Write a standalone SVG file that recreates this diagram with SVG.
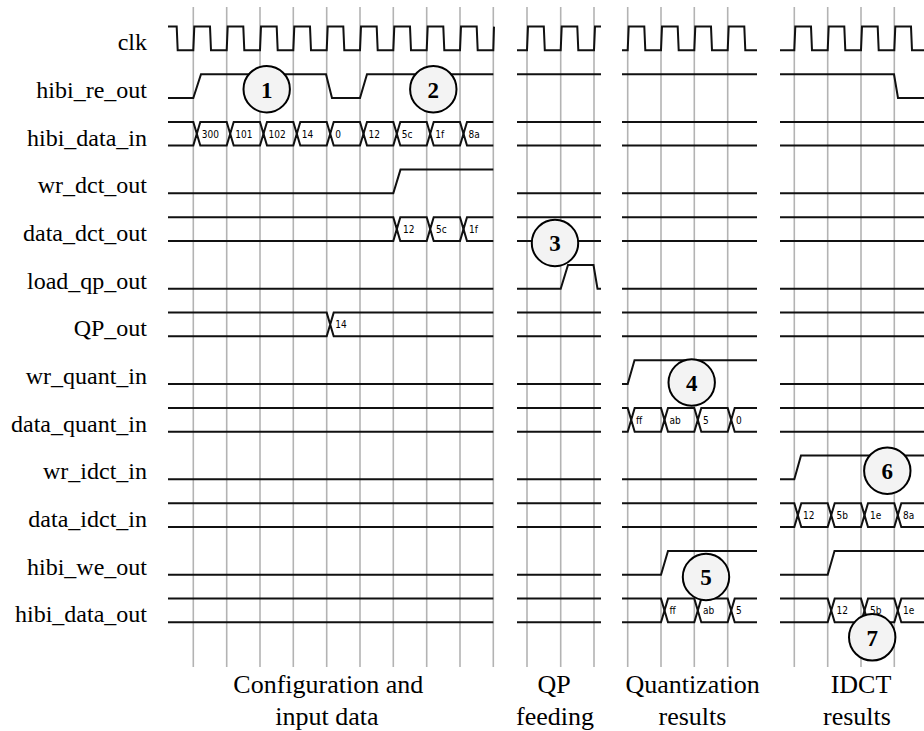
<svg xmlns="http://www.w3.org/2000/svg" width="924" height="731" viewBox="0 0 924 731">
<style>
.grid line{stroke:#b3b3b3;stroke-width:1.6}
.sig{fill:none;stroke:#111;stroke-width:2}
.ring{fill:#f3f3f3;stroke:#000;stroke-width:2}
</style>
<rect x="0" y="0" width="924" height="731" fill="#ffffff"/>

<g id="grid" class="grid">
<line x1="193.3" y1="7" x2="193.3" y2="667"/>
<line x1="226.7" y1="7" x2="226.7" y2="667"/>
<line x1="260" y1="7" x2="260" y2="667"/>
<line x1="293.3" y1="7" x2="293.3" y2="667"/>
<line x1="326.7" y1="7" x2="326.7" y2="667"/>
<line x1="360" y1="7" x2="360" y2="667"/>
<line x1="393.3" y1="7" x2="393.3" y2="667"/>
<line x1="426.7" y1="7" x2="426.7" y2="667"/>
<line x1="460" y1="7" x2="460" y2="667"/>
<line x1="493.3" y1="7" x2="493.3" y2="667"/>
<line x1="527" y1="7" x2="527" y2="667"/>
<line x1="560.7" y1="7" x2="560.7" y2="667"/>
<line x1="594" y1="7" x2="594" y2="667"/>
<line x1="627.7" y1="7" x2="627.7" y2="667"/>
<line x1="661" y1="7" x2="661" y2="667"/>
<line x1="694.3" y1="7" x2="694.3" y2="667"/>
<line x1="727.7" y1="7" x2="727.7" y2="667"/>
<line x1="794.3" y1="7" x2="794.3" y2="667"/>
<line x1="827.7" y1="7" x2="827.7" y2="667"/>
<line x1="861" y1="7" x2="861" y2="667"/>
<line x1="894.3" y1="7" x2="894.3" y2="667"/>
</g>

<g id="clk" transform="translate(0,26.6)">
<text x="147" y="23.7" font-family="Liberation Serif, serif" font-size="24" text-anchor="end">clk</text>
<path class="sig" d="M168,0 H176.7 L177.7,23.7 H193.3 L194.3,0 H210 L211,23.7 H226.7 L227.7,0 H243.3 L244.3,23.7 H260 L261,0 H276.7 L277.7,23.7 H293.3 L294.3,0 H310 L311,23.7 H326.7 L327.7,0 H343.3 L344.3,23.7 H360 L361,0 H376.7 L377.7,23.7 H393.3 L394.3,0 H410 L411,23.7 H426.7 L427.7,0 H443.3 L444.3,23.7 H460 L461,0 H476.7 L477.7,23.7 H493.3 L494,0"/>
<path class="sig" d="M517,23.7 H527 L528,0 H543.8 L544.8,23.7 H560.7 L561.7,0 H577.3 L578.3,23.7 H594 L595,0 H601"/>
<path class="sig" d="M622,23.7 H627.7 L628.7,0 H644.3 L645.3,23.7 H661 L662,0 H677.7 L678.7,23.7 H694.3 L695.3,0 H711 L712,23.7 H727.7 L728.7,0 H744.3 L745.3,23.7 H757"/>
<path class="sig" d="M780,23.7 H794.3 L795.3,0 H811 L812,23.7 H827.7 L828.7,0 H844.3 L845.3,23.7 H861 L862,0 H877.7 L878.7,23.7 H894.3 L895.3,0 H911 L912,23.7 H924"/>
</g>

<g id="hibi_re_out" transform="translate(0,74.3)">
<text x="147" y="23.7" font-family="Liberation Serif, serif" font-size="24" text-anchor="end">hibi_re_out</text>
<path class="sig" d="M168,23.7 H193.3 L201,0 H326 L332,23.7 H360 L367,0 H493.3 M517,0 H601 M622,0 H757 M780,0 H894 L898,23.7 H924"/>
</g>

<g id="hibi_data_in" transform="translate(0,121.9)">
<text x="147" y="23.7" font-family="Liberation Serif, serif" font-size="24" text-anchor="end">hibi_data_in</text>
<path class="sig" d="M168,0 H193.3 L196.8,11.85 L200.3,0 H226.7 L230.2,11.85 L233.7,0 H260 L263.5,11.85 L267,0 H293.3 L296.8,11.85 L300.3,0 H326.7 L330.2,11.85 L333.7,0 H360 L363.5,11.85 L367,0 H393.3 L396.8,11.85 L400.3,0 H426.7 L430.2,11.85 L433.7,0 H460 L463.5,11.85 L467,0 H493.3"/>
<path class="sig" d="M168,23.7 H193.3 L196.8,11.85 L200.3,23.7 H226.7 L230.2,11.85 L233.7,23.7 H260 L263.5,11.85 L267,23.7 H293.3 L296.8,11.85 L300.3,23.7 H326.7 L330.2,11.85 L333.7,23.7 H360 L363.5,11.85 L367,23.7 H393.3 L396.8,11.85 L400.3,23.7 H426.7 L430.2,11.85 L433.7,23.7 H460 L463.5,11.85 L467,23.7 H493.3"/>
<path class="sig" d="M517,0 H601 M517,23.7 H601 M622,0 H757 M622,23.7 H757 M780,0 H924 M780,23.7 H924"/>
<text x="201.8" y="15.8" font-family="DejaVu Sans Condensed, sans-serif" font-size="10">300</text>
<text x="235.2" y="15.8" font-family="DejaVu Sans Condensed, sans-serif" font-size="10">101</text>
<text x="268.5" y="15.8" font-family="DejaVu Sans Condensed, sans-serif" font-size="10">102</text>
<text x="301.8" y="15.8" font-family="DejaVu Sans Condensed, sans-serif" font-size="10">14</text>
<text x="335.2" y="15.8" font-family="DejaVu Sans Condensed, sans-serif" font-size="10">0</text>
<text x="368.5" y="15.8" font-family="DejaVu Sans Condensed, sans-serif" font-size="10">12</text>
<text x="401.8" y="15.8" font-family="DejaVu Sans Condensed, sans-serif" font-size="10">5c</text>
<text x="435.2" y="15.8" font-family="DejaVu Sans Condensed, sans-serif" font-size="10">1f</text>
<text x="468.5" y="15.8" font-family="DejaVu Sans Condensed, sans-serif" font-size="10">8a</text>
</g>

<g id="wr_dct_out" transform="translate(0,169.6)">
<text x="147" y="23.7" font-family="Liberation Serif, serif" font-size="24" text-anchor="end">wr_dct_out</text>
<path class="sig" d="M168,23.7 H393.3 L400.5,0 H493.3 M517,23.7 H601 M622,23.7 H757 M780,23.7 H924"/>
</g>

<g id="data_dct_out" transform="translate(0,217.3)">
<text x="147" y="23.7" font-family="Liberation Serif, serif" font-size="24" text-anchor="end">data_dct_out</text>
<path class="sig" d="M168,0 H393.3 L396.8,11.85 L400.3,0 H426.7 L430.2,11.85 L433.7,0 H460 L463.5,11.85 L467,0 H493.3"/>
<path class="sig" d="M168,23.7 H393.3 L396.8,11.85 L400.3,23.7 H426.7 L430.2,11.85 L433.7,23.7 H460 L463.5,11.85 L467,23.7 H493.3"/>
<path class="sig" d="M517,0 H601 M517,23.7 H601 M622,0 H757 M622,23.7 H757 M780,0 H924 M780,23.7 H924"/>
<text x="403" y="15.8" font-family="DejaVu Sans Condensed, sans-serif" font-size="10">12</text>
<text x="436" y="15.8" font-family="DejaVu Sans Condensed, sans-serif" font-size="10">5c</text>
<text x="469" y="15.8" font-family="DejaVu Sans Condensed, sans-serif" font-size="10">1f</text>
</g>

<g id="load_qp_out" transform="translate(0,265)">
<text x="147" y="23.7" font-family="Liberation Serif, serif" font-size="24" text-anchor="end">load_qp_out</text>
<path class="sig" d="M168,23.7 H493.3 M517,23.7 H560.7 L568,0 H593.5 L597.5,23.7 H601 M622,23.7 H757 M780,23.7 H924"/>
</g>

<g id="QP_out" transform="translate(0,312.6)">
<text x="147" y="23.7" font-family="Liberation Serif, serif" font-size="24" text-anchor="end">QP_out</text>
<path class="sig" d="M168,0 H326.7 L330.2,11.85 L333.7,0 H493.3 M168,23.7 H326.7 L330.2,11.85 L333.7,23.7 H493.3"/>
<path class="sig" d="M517,0 H601 M517,23.7 H601 M622,0 H757 M622,23.7 H757 M780,0 H924 M780,23.7 H924"/>
<text x="335.2" y="15.8" font-family="DejaVu Sans Condensed, sans-serif" font-size="10">14</text>
</g>

<g id="wr_quant_in" transform="translate(0,360.3)">
<text x="147" y="23.7" font-family="Liberation Serif, serif" font-size="24" text-anchor="end">wr_quant_in</text>
<path class="sig" d="M168,23.7 H493.3 M517,23.7 H601 M622,23.7 H627.7 L634.5,0 H757 M780,23.7 H924"/>
</g>

<g id="data_quant_in" transform="translate(0,408)">
<text x="147" y="23.7" font-family="Liberation Serif, serif" font-size="24" text-anchor="end">data_quant_in</text>
<path class="sig" d="M168,0 H493.3 M168,23.7 H493.3 M517,0 H601 M517,23.7 H601 M780,0 H924 M780,23.7 H924"/>
<path class="sig" d="M622,0 H627.7 L631.2,11.85 L634.7,0 H661 L664.5,11.85 L668,0 H694.3 L697.8,11.85 L701.3,0 H727.7 L731.2,11.85 L734.7,0 H757"/>
<path class="sig" d="M622,23.7 H627.7 L631.2,11.85 L634.7,23.7 H661 L664.5,11.85 L668,23.7 H694.3 L697.8,11.85 L701.3,23.7 H727.7 L731.2,11.85 L734.7,23.7 H757"/>
<text x="636" y="15.8" font-family="DejaVu Sans Condensed, sans-serif" font-size="10">ff</text>
<text x="669.5" y="15.8" font-family="DejaVu Sans Condensed, sans-serif" font-size="10">ab</text>
<text x="703" y="15.8" font-family="DejaVu Sans Condensed, sans-serif" font-size="10">5</text>
<text x="736" y="15.8" font-family="DejaVu Sans Condensed, sans-serif" font-size="10">0</text>
</g>

<g id="wr_idct_in" transform="translate(0,455.6)">
<text x="147" y="23.7" font-family="Liberation Serif, serif" font-size="24" text-anchor="end">wr_idct_in</text>
<path class="sig" d="M168,23.7 H493.3 M517,23.7 H601 M622,23.7 H757 M780,23.7 H794.3 L801,0 H924"/>
</g>

<g id="data_idct_in" transform="translate(0,503.3)">
<text x="147" y="23.7" font-family="Liberation Serif, serif" font-size="24" text-anchor="end">data_idct_in</text>
<path class="sig" d="M168,0 H493.3 M168,23.7 H493.3 M517,0 H601 M517,23.7 H601 M622,0 H757 M622,23.7 H757"/>
<path class="sig" d="M780,0 H794.3 L797.8,11.85 L801.3,0 H827.7 L831.2,11.85 L834.7,0 H861 L864.5,11.85 L868,0 H894.3 L897.8,11.85 L901.3,0 H924"/>
<path class="sig" d="M780,23.7 H794.3 L797.8,11.85 L801.3,23.7 H827.7 L831.2,11.85 L834.7,23.7 H861 L864.5,11.85 L868,23.7 H894.3 L897.8,11.85 L901.3,23.7 H924"/>
<text x="803" y="15.8" font-family="DejaVu Sans Condensed, sans-serif" font-size="10">12</text>
<text x="836.5" y="15.8" font-family="DejaVu Sans Condensed, sans-serif" font-size="10">5b</text>
<text x="870" y="15.8" font-family="DejaVu Sans Condensed, sans-serif" font-size="10">1e</text>
<text x="903" y="15.8" font-family="DejaVu Sans Condensed, sans-serif" font-size="10">8a</text>
</g>

<g id="hibi_we_out" transform="translate(0,551)">
<text x="147" y="23.7" font-family="Liberation Serif, serif" font-size="24" text-anchor="end">hibi_we_out</text>
<path class="sig" d="M168,23.7 H493.3 M517,23.7 H601 M622,23.7 H661 L668,0 H757 M780,23.7 H827.7 L834.5,0 H924"/>
</g>

<g id="hibi_data_out" transform="translate(0,598.6)">
<text x="147" y="23.7" font-family="Liberation Serif, serif" font-size="24" text-anchor="end">hibi_data_out</text>
<path class="sig" d="M168,0 H493.3 M168,23.7 H493.3 M517,0 H601 M517,23.7 H601"/>
<path class="sig" d="M622,0 H661 L664.5,11.85 L668,0 H694.3 L697.8,11.85 L701.3,0 H727.7 L731.2,11.85 L734.7,0 H757"/>
<path class="sig" d="M622,23.7 H661 L664.5,11.85 L668,23.7 H694.3 L697.8,11.85 L701.3,23.7 H727.7 L731.2,11.85 L734.7,23.7 H757"/>
<path class="sig" d="M780,0 H827.7 L831.2,11.85 L834.7,0 H861 L864.5,11.85 L868,0 H894.3 L897.8,11.85 L901.3,0 H924"/>
<path class="sig" d="M780,23.7 H827.7 L831.2,11.85 L834.7,23.7 H861 L864.5,11.85 L868,23.7 H894.3 L897.8,11.85 L901.3,23.7 H924"/>
<text x="669.5" y="15.8" font-family="DejaVu Sans Condensed, sans-serif" font-size="10">ff</text>
<text x="703" y="15.8" font-family="DejaVu Sans Condensed, sans-serif" font-size="10">ab</text>
<text x="736" y="15.8" font-family="DejaVu Sans Condensed, sans-serif" font-size="10">5</text>
<text x="836.5" y="15.8" font-family="DejaVu Sans Condensed, sans-serif" font-size="10">12</text>
<text x="870" y="15.8" font-family="DejaVu Sans Condensed, sans-serif" font-size="10">5b</text>
<text x="903" y="15.8" font-family="DejaVu Sans Condensed, sans-serif" font-size="10">1e</text>
</g>

<g id="m1"><circle class="ring" cx="266.7" cy="89.2" r="23.2"/><text x="266.7" y="97.5" font-family="Liberation Serif, serif" font-size="23" font-weight="bold" text-anchor="middle">1</text></g>
<g id="m2"><circle class="ring" cx="433.3" cy="89.2" r="23.2"/><text x="433.3" y="97.5" font-family="Liberation Serif, serif" font-size="23" font-weight="bold" text-anchor="middle">2</text></g>
<g id="m3"><circle class="ring" cx="555" cy="243" r="23.2"/><text x="555" y="251.3" font-family="Liberation Serif, serif" font-size="23" font-weight="bold" text-anchor="middle">3</text></g>
<g id="m4"><circle class="ring" cx="691.7" cy="382.5" r="23.2"/><text x="691.7" y="390.8" font-family="Liberation Serif, serif" font-size="23" font-weight="bold" text-anchor="middle">4</text></g>
<g id="m5"><circle class="ring" cx="706" cy="577" r="23.2"/><text x="706" y="585.3" font-family="Liberation Serif, serif" font-size="23" font-weight="bold" text-anchor="middle">5</text></g>
<g id="m6"><circle class="ring" cx="887.3" cy="470.7" r="23.2"/><text x="887.3" y="479" font-family="Liberation Serif, serif" font-size="23" font-weight="bold" text-anchor="middle">6</text></g>
<g id="m7"><circle class="ring" cx="872.2" cy="637.3" r="23.2"/><text x="872.2" y="645.6" font-family="Liberation Serif, serif" font-size="23" font-weight="bold" text-anchor="middle">7</text></g>

<g id="captions">
<text x="328.3" y="693" font-family="Liberation Serif, serif" font-size="26" text-anchor="middle">Configuration and</text>
<text x="327" y="725" font-family="Liberation Serif, serif" font-size="26" text-anchor="middle">input data</text>
<text x="554" y="693" font-family="Liberation Serif, serif" font-size="26" text-anchor="middle">QP</text>
<text x="555" y="725" font-family="Liberation Serif, serif" font-size="26" text-anchor="middle">feeding</text>
<text x="692.7" y="693" font-family="Liberation Serif, serif" font-size="26" text-anchor="middle">Quantization</text>
<text x="692.5" y="725" font-family="Liberation Serif, serif" font-size="26" text-anchor="middle">results</text>
<text x="861" y="693" font-family="Liberation Serif, serif" font-size="26" text-anchor="middle">IDCT</text>
<text x="857" y="725" font-family="Liberation Serif, serif" font-size="26" text-anchor="middle">results</text>
</g>
</svg>
